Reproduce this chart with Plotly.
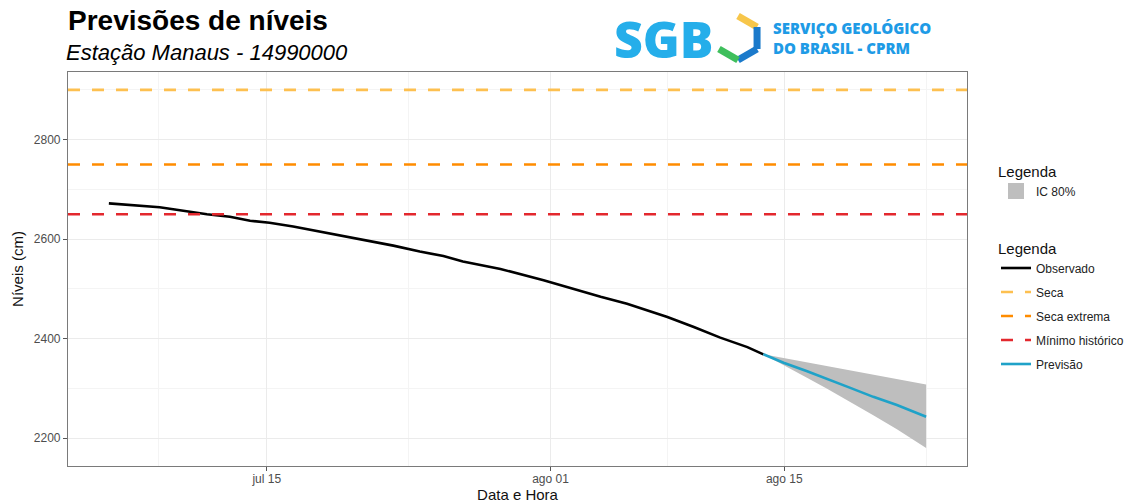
import pandas as pd
import plotly.graph_objects as go

# ---------------- data ----------------
obs_time = ["2024-07-05 13:00", "2024-07-08 14:00", "2024-07-11 10:00", "2024-07-12 19:00",
            "2024-07-14 00:00", "2024-07-15 04:00", "2024-07-16 14:00", "2024-07-18 04:00",
            "2024-07-19 19:00", "2024-07-20 14:00", "2024-07-22 14:00", "2024-07-24 04:00",
            "2024-07-25 14:00", "2024-07-26 18:00", "2024-07-29 00:00", "2024-07-31 14:00",
            "2024-08-01 09:00", "2024-08-02 14:00", "2024-08-04 00:00", "2024-08-05 14:00",
            "2024-08-06 14:00", "2024-08-08 00:00", "2024-08-09 14:00", "2024-08-11 04:00",
            "2024-08-12 19:00", "2024-08-13 18:00"]
obs_level = [2672, 2664, 2650, 2645, 2637, 2633, 2625.5, 2615.5, 2605, 2599, 2587, 2575,
             2566, 2555, 2540, 2517.5, 2509.5, 2497, 2484, 2470, 2459, 2443.6, 2423.5,
             2402, 2383, 2368.5]

fc_time = ["2024-08-13 18:00", "2024-08-14 23:00", "2024-08-16 08:00", "2024-08-17 13:00",
           "2024-08-18 23:00", "2024-08-20 08:00", "2024-08-21 18:00", "2024-08-23 12:00"]
fc_level = [2368.5, 2351.6, 2335, 2320, 2301, 2283, 2266.5, 2243]
fc_upper = [2368.5, 2361, 2352, 2345, 2336, 2328, 2319, 2308]
fc_lower = [2368.5, 2347, 2322, 2300, 2273, 2246, 2218, 2180]

threshold_names = ["Seca", "Seca extrema", "Mínimo histórico"]
threshold_values = [2900, 2750, 2650]

x_tick_vals = ["2024-07-15", "2024-08-01", "2024-08-15"]
x_tick_text = ["jul 15", "ago 01", "ago 15"]
x_minor_vals = ["2024-07-08 12:00", "2024-07-23 12:00", "2024-08-08 00:00", "2024-08-23 12:00"]
y_tick_vals = [2200, 2400, 2600, 2800]
y_minor_vals = [2300, 2500, 2700, 2900]

# ---------------- styling ----------------
FONT = "Liberation Sans"
threshold_colors = ["#FDC050", "#FF8C00", "#E3282E"]
OBS_COLOR = "#000000"
FC_COLOR = "#1FA2C8"
BAND_COLOR = "rgb(190,190,190)"

obs_t = pd.to_datetime(obs_time)
fc_t = pd.to_datetime(fc_time)

# ranges with 5% expansion like ggplot
t_min = min(obs_t.min(), fc_t.min())
t_max = max(obs_t.max(), fc_t.max())
t_pad = (t_max - t_min) * 0.05
x_lo, x_hi = t_min - t_pad, t_max + t_pad
all_y = obs_level + fc_lower + fc_upper + threshold_values
y_pad = (max(all_y) - min(all_y)) * 0.05
y_lo, y_hi = min(all_y) - y_pad, max(all_y) + y_pad

fig = go.Figure()

# confidence band (legend shown through a square key below)
fig.add_trace(go.Scatter(
    x=list(fc_t) + list(fc_t[::-1]), y=fc_upper + fc_lower[::-1],
    fill="toself", fillcolor=BAND_COLOR, line=dict(width=0), mode="lines",
    name="IC 80%", showlegend=False, hoverinfo="skip"))
fig.add_trace(go.Scatter(
    x=[None], y=[None], mode="markers", name="IC 80%", legend="legend",
    marker=dict(symbol="square", size=22, color=BAND_COLOR)))

fig.add_trace(go.Scatter(x=obs_t, y=obs_level, mode="lines", name="Observado",
                         line=dict(color=OBS_COLOR, width=2.6), legend="legend2",
                         legendrank=1, legendgroup="g1"))

for i, (nm, val, col) in enumerate(zip(threshold_names, threshold_values, threshold_colors)):
    fig.add_trace(go.Scatter(x=[x_lo, x_hi], y=[val, val], mode="lines", name=nm,
                             line=dict(color=col, width=2.6, dash="12px,12px"),
                             legend="legend2", legendrank=2 + i, legendgroup=f"g{2+i}"))

fig.add_trace(go.Scatter(x=fc_t, y=fc_level, mode="lines", name="Previsão",
                         line=dict(color=FC_COLOR, width=2.6), legend="legend2",
                         legendrank=5, legendgroup="g5"))

PL, PR, PT, PB = 68, 967, 72, 466
def px(x):
    return (x - PL) / (PR - PL)
def py(y):
    return (PB - y) / (PB - PT)

fig.update_layout(
    width=1129, height=503,
    margin=dict(l=68, r=162, t=72, b=37, autoexpand=False),
    plot_bgcolor="white", paper_bgcolor="white",
    font=dict(family=FONT, color="#222222"),
    showlegend=True,
    legend=dict(title=dict(text="Legenda", font=dict(size=15, color="#111")),
                x=px(996), xanchor="left", y=py(157), yanchor="top",
                font=dict(size=12, color="#222"), bgcolor="rgba(0,0,0,0)"),
    legend2=dict(title=dict(text="Legenda", font=dict(size=15, color="#111")),
                 x=px(996), xanchor="left", y=py(234), yanchor="top",
                 font=dict(size=12, color="#222"), bgcolor="rgba(0,0,0,0)",
                 traceorder="grouped", tracegroupgap=5),
    xaxis=dict(range=[x_lo, x_hi], tickmode="array", tickvals=x_tick_vals, ticktext=x_tick_text,
               showgrid=True, gridcolor="#EBEBEB", gridwidth=1,
               minor=dict(tickvals=x_minor_vals, showgrid=True, gridcolor="#F4F4F4", gridwidth=1, ticks=""),
               showline=True, linecolor="#7A7A7A", linewidth=1.2, mirror=True,
               ticks="outside", ticklen=4, tickcolor="#555", tickwidth=1,
               ticklabelstandoff=-3,
               tickfont=dict(size=12, color="#4D4D4D"), zeroline=False,
               title=dict(text="Data e Hora", font=dict(size=15, color="#111"), standoff=0),
               automargin=False),
    yaxis=dict(range=[y_lo, y_hi], tickmode="array", tickvals=y_tick_vals,
               showgrid=True, gridcolor="#EBEBEB", gridwidth=1,
               minor=dict(tickvals=y_minor_vals, showgrid=True, gridcolor="#F4F4F4", gridwidth=1, ticks=""),
               showline=True, linecolor="#7A7A7A", linewidth=1.2, mirror=True,
               ticks="outside", ticklen=4, tickcolor="#555", tickwidth=1,
               tickfont=dict(size=12, color="#4D4D4D"), zeroline=False,
               title=dict(text="Níveis (cm)", font=dict(size=15, color="#111"), standoff=6),
               automargin=False),
)

# titles
fig.add_annotation(text="<b>Previsões de níveis</b>", xref="paper", yref="paper",
                   x=px(66), y=py(21), xanchor="left", yanchor="middle", showarrow=False,
                   font=dict(size=28, family=FONT, color="#000"))
fig.add_annotation(text="<i>Estação Manaus - 14990000</i>", xref="paper", yref="paper",
                   x=px(64), y=py(52), xanchor="left", yanchor="middle", showarrow=False,
                   font=dict(size=22, family=FONT, color="#000"))

# logo (approximation)
fig.add_annotation(text="SGB", xref="paper", yref="paper", x=px(612), y=py(39),
                   xanchor="left", yanchor="middle", showarrow=False,
                   font=dict(size=50, family="Open Sans", weight=800, color="#25AEEA"))
cx, cy, r = 738, 38, 22
hx = [cx, cx + 0.866 * r, cx + 0.866 * r, cx, cx - 0.866 * r, cx - 0.866 * r]
hy = [cy - r, cy - r / 2, cy + r / 2, cy + r, cy + r / 2, cy - r / 2]
segs = [((0, 1), "#F7C64A"), ((1, 2), "#1B7ACB"), ((2, 3), "#1B7ACB"), ((3, 4), "#3FBF5C")]
for (a, b), col in segs:
    fig.add_shape(type="line", xref="paper", yref="paper",
                  x0=px(hx[a]), y0=py(hy[a]), x1=px(hx[b]), y1=py(hy[b]),
                  line=dict(color=col, width=7))
fig.add_annotation(text="SERVIÇO GEOLÓGICO<br>DO BRASIL - CPRM", xref="paper", yref="paper",
                   x=px(771), y=py(38), xanchor="left", yanchor="middle", align="left",
                   showarrow=False,
                   font=dict(size=15, family="Open Sans", weight=800, color="#1E9BE6"))

fig.write_html("out.html")
